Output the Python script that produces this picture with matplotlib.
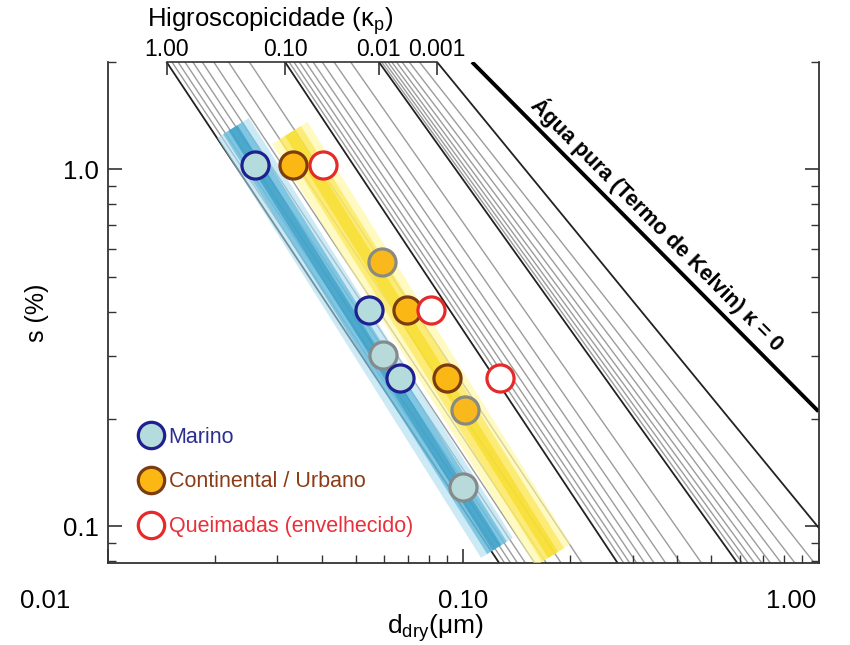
import matplotlib
matplotlib.use('Agg')
import matplotlib.pyplot as plt
from matplotlib.lines import Line2D
from matplotlib.ticker import NullFormatter, NullLocator

plt.rcParams['font.family'] = ['Liberation Sans', 'DejaVu Sans']
plt.rcParams['mathtext.default'] = 'regular'

# linhas de kappa constante: d seco (um) no topo (s=2%) e na base (s=0.079%)
kappa = [1.0, 0.9, 0.8, 0.7, 0.6, 0.5, 0.4, 0.3, 0.2, 0.1,
         0.09, 0.08, 0.07, 0.06, 0.05, 0.04, 0.03, 0.02, 0.01,
         0.009, 0.008, 0.007, 0.006, 0.005, 0.004, 0.003, 0.002, 0.001]
d_top = [0.01466, 0.01518, 0.01579, 0.01651, 0.01738, 0.01847, 0.01990, 0.02190, 0.02507, 0.03158,
         0.03242, 0.03344, 0.03465, 0.03610, 0.03787, 0.04017, 0.04337, 0.04829, 0.05799,
         0.05902, 0.06015, 0.06148, 0.06305, 0.06497, 0.06737, 0.07058, 0.07542, 0.08452]
d_bot = [0.1264, 0.1309, 0.1361, 0.1423, 0.1498, 0.1592, 0.1715, 0.1888, 0.2161, 0.2722,
         0.2832, 0.2944, 0.3080, 0.3243, 0.3447, 0.3716, 0.4091, 0.4688, 0.5912,
         0.6108, 0.6339, 0.6607, 0.6928, 0.7325, 0.7855, 0.8586, 0.9739, 1.2070]
s_top, s_bot = 2.0, 0.079
kappa_major = [1.0, 0.1, 0.01, 0.001]
kappa_labels = ['1.00', '0.10', '0.01', '0.001']

# termo de Kelvin (kappa = 0)
kelvin_d = [0.106, 1.0]
kelvin_s = [2.0, 0.21]

# faixas (marinho e continental)
band_blue_d = [0.02254, 0.1246]
band_blue_s = [1.307, 0.0871]
band_yel_d = [0.0326, 0.1792]
band_yel_s = [1.266, 0.0832]

# pontos
mar_d = [0.0260, 0.0544, 0.0665]
mar_s = [1.03, 0.404, 0.260]
con_d = [0.0333, 0.0697, 0.0900]
con_s = [1.03, 0.404, 0.260]
que_d = [0.0405, 0.0811, 0.127]
que_s = [1.03, 0.404, 0.260]
mar2_d = [0.0597, 0.100]
mar2_s = [0.302, 0.129]
con2_d = [0.0591, 0.1013]
con2_s = [0.552, 0.212]

fig = plt.figure(figsize=(8.5, 6.45), dpi=100)
ax = fig.add_axes([107.5 / 850, 82 / 645, 711 / 850, 501 / 645])
ax.set_xscale('log')
ax.set_yscale('log')
ax.set_xlim(0.01, 1.0)
ax.set_ylim(s_bot, s_top)

for k, a, b in zip(kappa, d_top, d_bot):
    if k in kappa_major:
        ax.plot([a, b], [s_top, s_bot], color='#222222', lw=1.3, zorder=2)
    else:
        ax.plot([a, b], [s_top, s_bot], color='#9c9c9c', lw=1.0, zorder=1)

ax.plot(kelvin_d, kelvin_s, color='black', lw=2.8, solid_capstyle='butt', zorder=2)
ax.text(0.3536, 0.704, 'Água pura (Termo de Kelvin) κ = 0', fontsize=15.5, fontweight='bold',
        rotation=-45, rotation_mode='anchor', ha='center', va='center')

# faixas translucidas
for dd, ss, cols, w in [(band_blue_d, band_blue_s, ['#a9dcef', '#56b4d8', '#2590bd'], 27),
                        (band_yel_d, band_yel_s, ['#fff59a', '#fbe650', '#f5d90f'], 30)]:
    ax.plot(dd, ss, color=cols[0], lw=w, alpha=0.6, solid_capstyle='butt', zorder=3)
    ax.plot(dd, ss, color=cols[1], lw=w * 0.62, alpha=0.65, solid_capstyle='butt', zorder=3)
    ax.plot(dd, ss, color=cols[2], lw=w * 0.28, alpha=0.55, solid_capstyle='butt', zorder=3)

mk = dict(marker='o', ls='none', ms=19.5, mew=2.3, zorder=5)
ax.plot(mar2_d, mar2_s, mfc='#b9dadb', mec='#858a8a', **mk)
ax.plot(con2_d, con2_s, mfc='#f9b91c', mec='#8a8a80', **mk)
ax.plot(mar_d, mar_s, mfc='#b4dcdc', mec='#1f1f8f', **mk)
ax.plot(con_d, con_s, mfc='#fbb714', mec='#7b3c10', **mk)
ax.plot(que_d, que_s, mfc='white', mec='#e62a2a', **mk)

handles = [Line2D([], [], marker='o', ls='none', ms=19, mew=2.3, mfc='#b4dcdc', mec='#1f1f8f'),
           Line2D([], [], marker='o', ls='none', ms=19, mew=2.3, mfc='#fbb714', mec='#7b3c10'),
           Line2D([], [], marker='o', ls='none', ms=19, mew=2.3, mfc='white', mec='#e62a2a')]
leg = ax.legend(handles, ['Marino', 'Continental / Urbano', 'Queimadas (envelhecido)'],
                loc='upper left', bbox_to_anchor=(0.0457, 0.272), frameon=False,
                fontsize=15.5, handlelength=1.0, handletextpad=0.33, labelspacing=1.1,
                borderpad=0, borderaxespad=0)
for t, c in zip(leg.get_texts(), ['#2b2f8f', '#8b3c16', '#e8303a']):
    t.set_color(c)

# eixos
for sp in ['left', 'right', 'bottom']:
    ax.spines[sp].set_linewidth(1.3)
    ax.spines[sp].set_color('#333333')
ax.spines['top'].set_visible(False)
ax.tick_params(which='both', direction='in', top=False, right=True, color='#333333')
ax.tick_params(which='major', length=10, width=1.2)
ax.tick_params(which='minor', length=6, width=1.0)
ax.set_xticks([0.01, 0.1, 1.0])
ax.set_xticklabels([])
ax.xaxis.set_minor_formatter(NullFormatter())
ax.set_yticks([0.1, 1.0])
ax.set_yticklabels(['0.1', '1.0'], fontsize=18.5)
ax.yaxis.set_minor_formatter(NullFormatter())
ax.tick_params(axis='y', pad=6)

for xv, lab, dx in zip([0.01, 0.1, 1.0], ['0.01', '0.10', '1.00'], [-44.6, 0, -20]):
    ax.annotate(lab, xy=(xv, 0), xycoords=('data', 'axes fraction'), xytext=(dx, -27),
                textcoords='offset points', ha='center', va='center', fontsize=18.5)

ax.set_ylabel('s (%)', fontsize=18, labelpad=10)
ax.set_xlabel('d$_{dry}$(μm)', fontsize=19)
ax.xaxis.set_label_coords(0.4606, -0.098)

# eixo superior de higroscopicidade
ax2 = ax.twiny()
ax2.set_xscale('log')
ax2.set_xlim(ax.get_xlim())
top_pos = [d_top[kappa.index(k)] for k in kappa_major]
ax2.set_xticks(top_pos)
ax2.set_xticklabels(kappa_labels, fontsize=16.5)
ax2.xaxis.set_minor_locator(NullLocator())
for sp in ['left', 'right', 'bottom']:
    ax2.spines[sp].set_visible(False)
ax2.spines['top'].set_bounds(top_pos[0], top_pos[-1])
ax2.spines['top'].set_linewidth(1.2)
ax2.spines['top'].set_color('#333333')
ax2.tick_params(axis='x', direction='in', length=9, width=1.2, pad=1, color='#333333')
ax2.set_xlabel('Higroscopicidade (κ$_{p}$)', fontsize=18.5, labelpad=2)
ax2.xaxis.set_label_coords(0.2286, 1.07)

fig.savefig('out.png', dpi=100)
